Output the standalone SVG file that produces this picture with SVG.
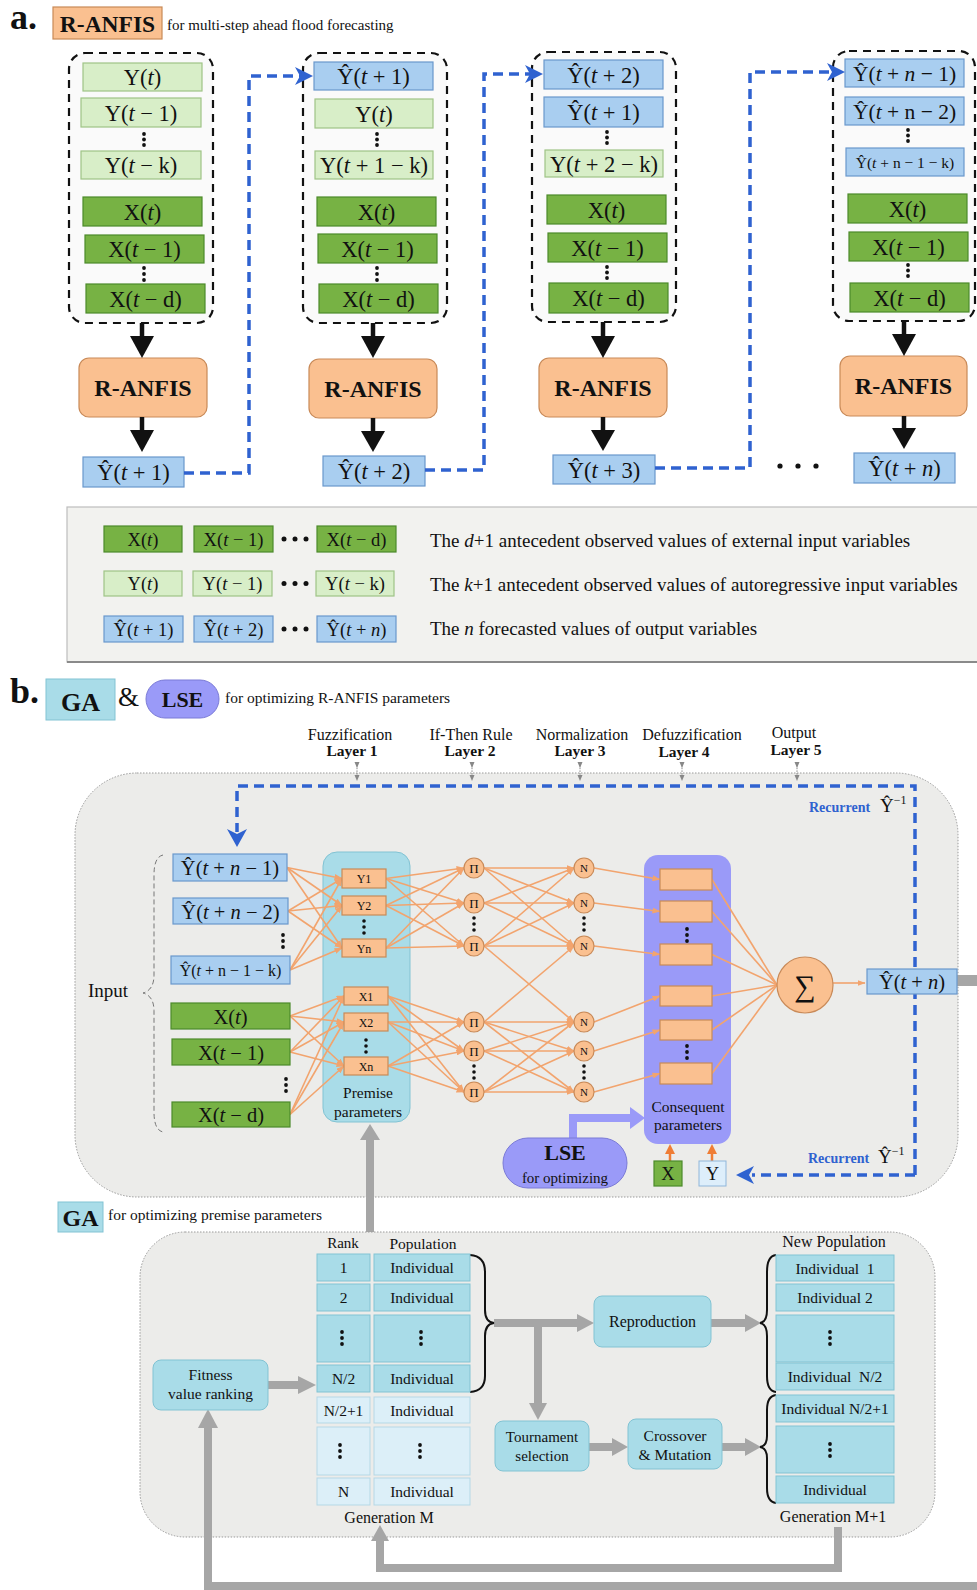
<svg xmlns="http://www.w3.org/2000/svg" width="977" height="1590" viewBox="0 0 977 1590">
<defs>
<style>
text{font-family:"Liberation Serif","Times New Roman",serif;fill:#111}
.c{text-anchor:middle}
.b{font-weight:bold}
.i{font-style:italic}
.yl{fill:#D8EEC8;stroke:#9FC486;stroke-width:1.2}
.xd{fill:#77B244;stroke:#4C8A2A;stroke-width:1.2}
.yh{fill:#A9CEF0;stroke:#6A98CC;stroke-width:1.2}
.or{fill:#FAC090;stroke:#C98A58;stroke-width:1.2}
.cy{fill:#A9DCE8;stroke:#82C3D3;stroke-width:1}
.cyl{fill:#DCEFF8;stroke:#B5D8E6;stroke-width:1}
.pe{fill:#9A9AF8}
.frame{fill:#FAFAFA;stroke:#111;stroke-width:2.2;stroke-dasharray:8 6}
.panel{fill:#ECECEA;stroke:#9A9A9A;stroke-width:1;stroke-dasharray:1.5 1.5}
.blk{stroke:#111;stroke-width:4.5;fill:none}
.bd{stroke:#2F62D0;stroke-width:3.5;fill:none;stroke-dasharray:10 6}
.bh{fill:#2F62D0}
.ol{stroke:#F2A46E;stroke-width:1.6;fill:none}
.gr{stroke:#A6A6A6;stroke-width:8;fill:none}
.gh{fill:#A6A6A6}
.dot{fill:#111}
.t21{font-size:22.5px}
.t19{font-size:19px}
.tn{font-size:20.5px}
.t18{font-size:18.5px}
.t16{font-size:16px}
.t155{font-size:15.5px}
</style>
<marker id="oa" markerWidth="8" markerHeight="6" refX="7.5" refY="3" orient="auto" markerUnits="userSpaceOnUse"><path d="M0,0 L8,3 L0,6 z" fill="#F2A46E"/></marker>
<marker id="ga" markerWidth="6" markerHeight="6" refX="3" refY="3" orient="auto" markerUnits="userSpaceOnUse"><path d="M0,0.5 L6,3 L0,5.5 z" fill="#888"/></marker>
</defs>
<rect width="977" height="1590" fill="#FFFFFF"/>

<!-- ================= PART A ================= -->
<g id="header-a">
<text x="10" y="29" font-size="36" class="b">a.</text>
<rect x="53" y="7" width="109" height="32" class="or"/>
<text x="107.5" y="32" font-size="23.5" class="b c">R-ANFIS</text>
<text x="167" y="30" font-size="15">for multi-step ahead flood forecasting</text>
</g>

<g id="col1">
<rect x="69" y="53" width="144" height="270" rx="16" class="frame"/>
<rect x="83" y="63" width="119" height="28" class="yl"/><text x="142.5" y="85" class="c t21">Y(<tspan class="i">t</tspan>)</text>
<rect x="81" y="98" width="120" height="29" class="yl"/><text x="141" y="121" class="c t21">Y(<tspan class="i">t</tspan> − 1)</text>
<circle cx="144" cy="134" r="1.9" class="dot"/><circle cx="144" cy="139.5" r="1.9" class="dot"/><circle cx="144" cy="145" r="1.9" class="dot"/>
<rect x="81" y="151" width="120" height="28" class="yl"/><text x="141" y="173" class="c t21">Y(<tspan class="i">t</tspan> − k)</text>
<rect x="83" y="197" width="119" height="29" class="xd"/><text x="142.5" y="220" class="c t21">X(<tspan class="i">t</tspan>)</text>
<rect x="85" y="235" width="119" height="28" class="xd"/><text x="144.5" y="257" class="c t21">X(<tspan class="i">t</tspan> − 1)</text>
<circle cx="144" cy="268" r="1.9" class="dot"/><circle cx="144" cy="274" r="1.9" class="dot"/><circle cx="144" cy="280" r="1.9" class="dot"/>
<rect x="86" y="284" width="119" height="29" class="xd"/><text x="145.5" y="307" class="c t21">X(<tspan class="i">t</tspan> − d)</text>
</g>

<g id="col2">
<rect x="303" y="53" width="144" height="270" rx="16" class="frame"/>
<rect x="314" y="62" width="119" height="28" class="yh"/><text x="373.5" y="84" class="c t21">Ŷ(<tspan class="i">t</tspan> + 1)</text>
<rect x="315" y="99" width="118" height="29" class="yl"/><text x="374" y="122" class="c t21">Y(<tspan class="i">t</tspan>)</text>
<circle cx="377" cy="134" r="1.9" class="dot"/><circle cx="377" cy="139.5" r="1.9" class="dot"/><circle cx="377" cy="145" r="1.9" class="dot"/>
<rect x="315" y="151" width="118" height="28" class="yl"/><text x="374" y="173" class="c t21">Y(<tspan class="i">t</tspan> + 1 − k)</text>
<rect x="317" y="197" width="119" height="29" class="xd"/><text x="376.5" y="220" class="c t21">X(<tspan class="i">t</tspan>)</text>
<rect x="318" y="234" width="119" height="29" class="xd"/><text x="377.5" y="257" class="c t21">X(<tspan class="i">t</tspan> − 1)</text>
<circle cx="377" cy="268" r="1.9" class="dot"/><circle cx="377" cy="274" r="1.9" class="dot"/><circle cx="377" cy="280" r="1.9" class="dot"/>
<rect x="319" y="284" width="119" height="29" class="xd"/><text x="378.5" y="307" class="c t21">X(<tspan class="i">t</tspan> − d)</text>
</g>

<g id="col3">
<rect x="532" y="52" width="144" height="270" rx="16" class="frame"/>
<rect x="544" y="60" width="119" height="29" class="yh"/><text x="603.5" y="83" class="c t21">Ŷ(<tspan class="i">t</tspan> + 2)</text>
<rect x="544" y="97" width="119" height="30" class="yh"/><text x="603.5" y="120" class="c t21">Ŷ(<tspan class="i">t</tspan> + 1)</text>
<circle cx="607" cy="132" r="1.9" class="dot"/><circle cx="607" cy="137.5" r="1.9" class="dot"/><circle cx="607" cy="143" r="1.9" class="dot"/>
<rect x="545" y="150" width="118" height="27" class="yl"/><text x="604" y="172" class="c t21">Y(<tspan class="i">t</tspan> + 2 − k)</text>
<rect x="547" y="195" width="119" height="29" class="xd"/><text x="606.5" y="218" class="c t21">X(<tspan class="i">t</tspan>)</text>
<rect x="548" y="233" width="119" height="29" class="xd"/><text x="607.5" y="256" class="c t21">X(<tspan class="i">t</tspan> − 1)</text>
<circle cx="607" cy="267" r="1.9" class="dot"/><circle cx="607" cy="272.5" r="1.9" class="dot"/><circle cx="607" cy="278" r="1.9" class="dot"/>
<rect x="549" y="283" width="119" height="30" class="xd"/><text x="608.5" y="306" class="c t21">X(<tspan class="i">t</tspan> − d)</text>
</g>

<g id="col4">
<rect x="833" y="51" width="142" height="270" rx="16" class="frame"/>
<rect x="845" y="59" width="119" height="28" class="yh"/><text x="904.5" y="81" class="c" font-size="21.5">Ŷ(<tspan class="i">t</tspan> + <tspan class="i">n</tspan> − 1)</text>
<rect x="845" y="97" width="119" height="28" class="yh"/><text x="904.5" y="119" class="c" font-size="21.5">Ŷ(<tspan class="i">t</tspan> + n − 2)</text>
<circle cx="908" cy="130" r="1.9" class="dot"/><circle cx="908" cy="135.5" r="1.9" class="dot"/><circle cx="908" cy="141" r="1.9" class="dot"/>
<rect x="846" y="148" width="118" height="28" class="yh"/><text x="905" y="167.5" class="c" font-size="15.5">Ŷ(<tspan class="i">t</tspan> + n − 1 − k)</text>
<rect x="848" y="194" width="119" height="29" class="xd"/><text x="907.5" y="217" class="c t21">X(<tspan class="i">t</tspan>)</text>
<rect x="849" y="232" width="119" height="29" class="xd"/><text x="908.5" y="255" class="c t21">X(<tspan class="i">t</tspan> − 1)</text>
<circle cx="908" cy="265" r="1.9" class="dot"/><circle cx="908" cy="270.5" r="1.9" class="dot"/><circle cx="908" cy="276" r="1.9" class="dot"/>
<rect x="850" y="283" width="119" height="29" class="xd"/><text x="909.5" y="306" class="c t21">X(<tspan class="i">t</tspan> − d)</text>
</g>

<g id="anfis-a">
<rect x="79" y="358" width="128" height="59" rx="10" class="or"/><text x="143" y="396" font-size="24" class="b c">R-ANFIS</text>
<rect x="309" y="359" width="128" height="59" rx="10" class="or"/><text x="373" y="397" font-size="24" class="b c">R-ANFIS</text>
<rect x="539" y="358" width="128" height="59" rx="10" class="or"/><text x="603" y="396" font-size="24" class="b c">R-ANFIS</text>
<rect x="840" y="356" width="127" height="60" rx="10" class="or"/><text x="903.5" y="394" font-size="24" class="b c">R-ANFIS</text>
</g>

<g id="outputs-a">
<rect x="83" y="457" width="101" height="30" class="yh"/><text x="133.5" y="480" class="c t21">Ŷ(<tspan class="i">t</tspan> + 1)</text>
<rect x="323" y="456" width="102" height="30" class="yh"/><text x="374" y="479" class="c t21">Ŷ(<tspan class="i">t</tspan> + 2)</text>
<rect x="553" y="455" width="102" height="29" class="yh"/><text x="604" y="478" class="c t21">Ŷ(<tspan class="i">t</tspan> + 3)</text>
<rect x="854" y="453" width="101" height="30" class="yh"/><text x="904.5" y="476" class="c t21">Ŷ(<tspan class="i">t</tspan> + <tspan class="i">n</tspan>)</text>
<circle cx="780" cy="466" r="2.6" class="dot"/><circle cx="798" cy="466" r="2.6" class="dot"/><circle cx="816" cy="466" r="2.6" class="dot"/>
</g>

<g id="connectors-a">
<line x1="142" y1="323" x2="142" y2="338" class="blk"/><polygon points="130,336 154,336 142,358" fill="#111"/>
<line x1="142" y1="417" x2="142" y2="432" class="blk"/><polygon points="130,430 154,430 142,452" fill="#111"/>
<line x1="373" y1="323" x2="373" y2="338" class="blk"/><polygon points="361,336 385,336 373,358" fill="#111"/>
<line x1="373" y1="418" x2="373" y2="433" class="blk"/><polygon points="361,431 385,431 373,452" fill="#111"/>
<line x1="603" y1="322" x2="603" y2="338" class="blk"/><polygon points="591,336 615,336 603,358" fill="#111"/>
<line x1="603" y1="417" x2="603" y2="432" class="blk"/><polygon points="591,430 615,430 603,451" fill="#111"/>
<line x1="904" y1="321" x2="904" y2="336" class="blk"/><polygon points="892,334 916,334 904,356" fill="#111"/>
<line x1="904" y1="416" x2="904" y2="430" class="blk"/><polygon points="892,428 916,428 904,449" fill="#111"/>
<path d="M184,473 H249 V76 H300" class="bd"/><polygon points="313,76 295,67 300,76 295,85" class="bh"/>
<path d="M425,470 H484 V74 H530" class="bd"/><polygon points="543,74 525,65 530,74 525,83" class="bh"/>
<path d="M655,468 H750 V72 H832" class="bd"/><polygon points="845,72 827,63 832,72 827,81" class="bh"/>
</g>

<g id="legend">
<rect x="67" y="507" width="915" height="155" fill="#F2F2EF" stroke="#BDBDBD" stroke-width="1.2"/>
<line x1="67" y1="662" x2="977" y2="662" stroke="#8A8A8A" stroke-width="2"/>
<rect x="104" y="526" width="78" height="26" class="xd"/><text x="143" y="545.5" class="c t18">X(<tspan class="i">t</tspan>)</text>
<rect x="194" y="526" width="79" height="26" class="xd"/><text x="233.5" y="545.5" class="c t18">X(<tspan class="i">t</tspan> − 1)</text>
<circle cx="284" cy="539" r="2.5" class="dot"/><circle cx="295" cy="539" r="2.5" class="dot"/><circle cx="306" cy="539" r="2.5" class="dot"/>
<rect x="317" y="526" width="79" height="26" class="xd"/><text x="356.5" y="545.5" class="c t18">X(<tspan class="i">t</tspan> − d)</text>
<text x="430" y="547" class="t19">The <tspan class="i">d</tspan>+1 antecedent observed values of external input variables</text>
<rect x="104" y="571" width="78" height="25" class="yl"/><text x="143" y="590" class="c t18">Y(<tspan class="i">t</tspan>)</text>
<rect x="193" y="571" width="79" height="25" class="yl"/><text x="232.5" y="590" class="c t18">Y(<tspan class="i">t</tspan> − 1)</text>
<circle cx="284" cy="583.5" r="2.5" class="dot"/><circle cx="295" cy="583.5" r="2.5" class="dot"/><circle cx="306" cy="583.5" r="2.5" class="dot"/>
<rect x="316" y="571" width="78" height="25" class="yl"/><text x="355" y="590" class="c t18">Y(<tspan class="i">t</tspan> − k)</text>
<text x="430" y="591" class="t19">The <tspan class="i">k</tspan>+1 antecedent observed values of autoregressive input variables</text>
<rect x="104" y="616" width="79" height="26" class="yh"/><text x="143.5" y="635.5" class="c t18">Ŷ(<tspan class="i">t</tspan> + 1)</text>
<rect x="194" y="616" width="79" height="26" class="yh"/><text x="233.5" y="635.5" class="c t18">Ŷ(<tspan class="i">t</tspan> + 2)</text>
<circle cx="284" cy="629" r="2.5" class="dot"/><circle cx="295" cy="629" r="2.5" class="dot"/><circle cx="306" cy="629" r="2.5" class="dot"/>
<rect x="317" y="616" width="79" height="26" class="yh"/><text x="356.5" y="635.5" class="c t18">Ŷ(<tspan class="i">t</tspan> + <tspan class="i">n</tspan>)</text>
<text x="430" y="635" class="t19">The <tspan class="i">n</tspan> forecasted values of output variables</text>
</g>

<!-- ================= PART B ================= -->
<g id="header-b">
<text x="10" y="703" font-size="36" class="b">b.</text>
<rect x="46" y="679" width="69" height="41" class="cy"/>
<text x="80.5" y="711" font-size="26" class="b c">GA</text>
<text x="118" y="706" font-size="27">&amp;</text>
<rect x="146" y="680" width="73" height="38" rx="19" class="pe" stroke="#7A7AD6" stroke-width="1"/>
<text x="182.5" y="707" font-size="22" class="b c">LSE</text>
<text x="225" y="703" font-size="15.5">for optimizing R-ANFIS parameters</text>
</g>

<g id="layer-labels">
<text x="350" y="740" class="c t16">Fuzzification</text><text x="352" y="756" class="c b t155">Layer 1</text>
<text x="471" y="740" class="c t16">If-Then Rule</text><text x="470" y="756" class="c b t155">Layer 2</text>
<text x="582" y="740" class="c t16">Normalization</text><text x="580" y="756" class="c b t155">Layer 3</text>
<text x="692" y="740" class="c t16">Defuzzification</text><text x="684" y="757" class="c b t155">Layer 4</text>
<text x="794" y="738" class="c t16">Output</text><text x="796" y="755" class="c b t155">Layer 5</text>
</g>

<g id="network-panel">
<rect x="75" y="773" width="883" height="424" rx="62" class="panel"/>
</g>

<g id="layer-ticks" stroke="#888" stroke-width="1" stroke-dasharray="1.5 1.2">
<line x1="357" y1="765" x2="357" y2="778" marker-start="url(#ga)" marker-end="url(#ga)"/>
<line x1="472" y1="765" x2="472" y2="778" marker-start="url(#ga)" marker-end="url(#ga)"/>
<line x1="580" y1="765" x2="580" y2="778" marker-start="url(#ga)" marker-end="url(#ga)"/>
<line x1="682" y1="765" x2="682" y2="778" marker-start="url(#ga)" marker-end="url(#ga)"/>
<line x1="797" y1="765" x2="797" y2="778" marker-start="url(#ga)" marker-end="url(#ga)"/>
</g>

<g id="premise-panel">
<rect x="323" y="852" width="87" height="270" rx="14" class="cy" stroke="none"/>
<text x="368" y="1098" class="c t155">Premise</text>
<text x="368" y="1117" class="c t155">parameters</text>
</g>
<g id="consequent-panel">
<rect x="644" y="855" width="87" height="289" rx="14" class="pe"/>
<text x="688" y="1112" class="c t155">Consequent</text>
<text x="688" y="1130" class="c t155">parameters</text>
</g>

<g id="connectors-b">
<g class="ol" marker-end="url(#oa)">
<line x1="287" y1="867.5" x2="342" y2="878.5"/><line x1="287" y1="867.5" x2="342" y2="905.5"/><line x1="287" y1="867.5" x2="342" y2="948"/>
<line x1="288" y1="911" x2="342" y2="878.5"/><line x1="288" y1="911" x2="342" y2="905.5"/><line x1="288" y1="911" x2="342" y2="948"/>
<line x1="290" y1="970" x2="342" y2="878.5"/><line x1="290" y1="970" x2="342" y2="905.5"/><line x1="290" y1="970" x2="342" y2="948"/>
<line x1="290" y1="1016" x2="344" y2="996"/><line x1="290" y1="1016" x2="344" y2="1022"/><line x1="290" y1="1016" x2="344" y2="1066"/>
<line x1="290" y1="1052" x2="344" y2="996"/><line x1="290" y1="1052" x2="344" y2="1022"/><line x1="290" y1="1052" x2="344" y2="1066"/>
<line x1="290" y1="1114.5" x2="344" y2="996"/><line x1="290" y1="1114.5" x2="344" y2="1022"/><line x1="290" y1="1114.5" x2="344" y2="1066"/>
<line x1="386" y1="878.5" x2="464" y2="868"/><line x1="386" y1="878.5" x2="464" y2="903"/><line x1="386" y1="878.5" x2="464" y2="946"/>
<line x1="386" y1="905.5" x2="464" y2="868"/><line x1="386" y1="905.5" x2="464" y2="903"/><line x1="386" y1="905.5" x2="464" y2="946"/>
<line x1="386" y1="948" x2="464" y2="868"/><line x1="386" y1="948" x2="464" y2="903"/><line x1="386" y1="948" x2="464" y2="946"/>
<line x1="388" y1="996" x2="464" y2="1022"/><line x1="388" y1="996" x2="464" y2="1051"/><line x1="388" y1="996" x2="464" y2="1092"/>
<line x1="388" y1="1022" x2="464" y2="1022"/><line x1="388" y1="1022" x2="464" y2="1051"/><line x1="388" y1="1022" x2="464" y2="1092"/>
<line x1="388" y1="1066" x2="464" y2="1022"/><line x1="388" y1="1066" x2="464" y2="1051"/><line x1="388" y1="1066" x2="464" y2="1092"/>
<line x1="484" y1="868" x2="574" y2="868"/><line x1="484" y1="868" x2="574" y2="903"/><line x1="484" y1="868" x2="574" y2="946"/>
<line x1="484" y1="903" x2="574" y2="868"/><line x1="484" y1="903" x2="574" y2="903"/><line x1="484" y1="903" x2="574" y2="946"/>
<line x1="484" y1="946" x2="574" y2="868"/><line x1="484" y1="946" x2="574" y2="903"/><line x1="484" y1="946" x2="574" y2="946"/><line x1="484" y1="946" x2="574" y2="1022"/>
<line x1="484" y1="1022" x2="574" y2="946"/><line x1="484" y1="1022" x2="574" y2="1022"/><line x1="484" y1="1022" x2="574" y2="1051"/><line x1="484" y1="1022" x2="574" y2="1092"/>
<line x1="484" y1="1051" x2="574" y2="1022"/><line x1="484" y1="1051" x2="574" y2="1051"/><line x1="484" y1="1051" x2="574" y2="1092"/>
<line x1="484" y1="1092" x2="574" y2="1022"/><line x1="484" y1="1092" x2="574" y2="1051"/><line x1="484" y1="1092" x2="574" y2="1092"/>
<line x1="594" y1="868" x2="660" y2="879.5"/><line x1="594" y1="903" x2="660" y2="911.5"/><line x1="594" y1="946" x2="660" y2="954.5"/>
<line x1="594" y1="1022" x2="660" y2="996"/><line x1="594" y1="1051" x2="660" y2="1030"/><line x1="594" y1="1092" x2="660" y2="1073.5"/>
<line x1="833" y1="983" x2="865" y2="983"/>
</g>
<g class="ol">
<line x1="712" y1="879.5" x2="777" y2="985"/><line x1="712" y1="911.5" x2="777" y2="985"/><line x1="712" y1="954.5" x2="777" y2="985"/>
<line x1="712" y1="996" x2="777" y2="985"/><line x1="712" y1="1030" x2="777" y2="985"/><line x1="712" y1="1073.5" x2="777" y2="985"/>
</g>
<path d="M915,1175 V786 H237 V832" class="bd"/><polygon points="237,847 227,829 237,834 247,829" class="bh"/>
<path d="M915,1175 H752" class="bd"/><polygon points="736,1175 754,1166 749,1175 754,1184" class="bh"/>
<path d="M573,1138 V1118 H632" stroke="#9A9AF8" stroke-width="8" fill="none"/>
<polygon points="645,1118 630,1107 630,1129" fill="#9A9AF8"/>
<line x1="670" y1="1161" x2="670" y2="1153" stroke="#EF7D35" stroke-width="2.5"/><polygon points="670,1144 665,1154 675,1154" fill="#EF7D35"/>
<line x1="712" y1="1161" x2="712" y2="1153" stroke="#EF7D35" stroke-width="2.5"/><polygon points="712,1144 707,1154 717,1154" fill="#EF7D35"/>
<rect x="957" y="975" width="20" height="11" class="gh"/>
<line x1="370" y1="1253" x2="370" y2="1138" class="gr"/><polygon points="370,1124 360,1140 380,1140" class="gh"/>
<path d="M163,855 Q154,857 154,875 V975 Q154,990 143,993 Q154,996 154,1011 V1112 Q154,1130 163,1132" fill="none" stroke="#777" stroke-width="1" stroke-dasharray="5 3"/>
</g>

<g id="network-inputs">
<text x="88" y="997" font-size="19">Input</text>
<rect x="173" y="854" width="114" height="27" class="yh"/><text x="230" y="875" class="c tn">Ŷ(<tspan class="i">t</tspan> + <tspan class="i">n</tspan> − 1)</text>
<rect x="173" y="898" width="115" height="26" class="yh"/><text x="230.5" y="918.5" class="c tn">Ŷ(<tspan class="i">t</tspan> + <tspan class="i">n</tspan> − 2)</text>
<circle cx="283" cy="935" r="1.9" class="dot"/><circle cx="283" cy="941" r="1.9" class="dot"/><circle cx="283" cy="947" r="1.9" class="dot"/>
<rect x="171" y="956" width="119" height="28" class="yh"/><text x="230.5" y="976" class="c" font-size="16">Ŷ(<tspan class="i">t</tspan> + n − 1 − k)</text>
<rect x="171" y="1003" width="119" height="26" class="xd"/><text x="230.5" y="1023.5" class="c tn">X(<tspan class="i">t</tspan>)</text>
<rect x="172" y="1039" width="118" height="26" class="xd"/><text x="231" y="1059.5" class="c tn">X(<tspan class="i">t</tspan> − 1)</text>
<circle cx="286" cy="1079" r="1.9" class="dot"/><circle cx="286" cy="1085" r="1.9" class="dot"/><circle cx="286" cy="1091" r="1.9" class="dot"/>
<rect x="172" y="1102" width="118" height="25" class="xd"/><text x="231" y="1121.5" class="c tn">X(<tspan class="i">t</tspan> − d)</text>
</g>

<g id="membership">
<rect x="342" y="869" width="44" height="19" class="or"/><text x="364" y="883" class="c" font-size="12">Y1</text>
<rect x="342" y="896" width="44" height="19" class="or"/><text x="364" y="910" class="c" font-size="12">Y2</text>
<circle cx="364" cy="921" r="1.8" class="dot"/><circle cx="364" cy="927" r="1.8" class="dot"/><circle cx="364" cy="933" r="1.8" class="dot"/>
<rect x="342" y="939" width="44" height="18" class="or"/><text x="364" y="952.5" class="c" font-size="12">Yn</text>
<rect x="344" y="987" width="44" height="18" class="or"/><text x="366" y="1000.5" class="c" font-size="12">X1</text>
<rect x="344" y="1013" width="44" height="18" class="or"/><text x="366" y="1026.5" class="c" font-size="12">X2</text>
<circle cx="366" cy="1040" r="1.8" class="dot"/><circle cx="366" cy="1046" r="1.8" class="dot"/><circle cx="366" cy="1052" r="1.8" class="dot"/>
<rect x="344" y="1057" width="44" height="18" class="or"/><text x="366" y="1070.5" class="c" font-size="12">Xn</text>
</g>

<g id="product-nodes">
<circle cx="474" cy="868" r="10" class="or"/><text x="474" y="872.5" class="c" font-size="13">Π</text>
<circle cx="474" cy="903" r="10" class="or"/><text x="474" y="907.5" class="c" font-size="13">Π</text>
<circle cx="474" cy="918" r="1.8" class="dot"/><circle cx="474" cy="924" r="1.8" class="dot"/><circle cx="474" cy="930" r="1.8" class="dot"/>
<circle cx="474" cy="946" r="10" class="or"/><text x="474" y="950.5" class="c" font-size="13">Π</text>
<circle cx="474" cy="1022" r="10" class="or"/><text x="474" y="1026.5" class="c" font-size="13">Π</text>
<circle cx="474" cy="1051" r="10" class="or"/><text x="474" y="1055.5" class="c" font-size="13">Π</text>
<circle cx="474" cy="1066" r="1.8" class="dot"/><circle cx="474" cy="1072" r="1.8" class="dot"/><circle cx="474" cy="1078" r="1.8" class="dot"/>
<circle cx="474" cy="1092" r="10" class="or"/><text x="474" y="1096.5" class="c" font-size="13">Π</text>
</g>

<g id="norm-nodes">
<circle cx="584" cy="868" r="10" class="or"/><text x="584" y="872" class="c" font-size="11">N</text>
<circle cx="584" cy="903" r="10" class="or"/><text x="584" y="907" class="c" font-size="11">N</text>
<circle cx="584" cy="918" r="1.8" class="dot"/><circle cx="584" cy="924" r="1.8" class="dot"/><circle cx="584" cy="930" r="1.8" class="dot"/>
<circle cx="584" cy="946" r="10" class="or"/><text x="584" y="950" class="c" font-size="11">N</text>
<circle cx="584" cy="1022" r="10" class="or"/><text x="584" y="1026" class="c" font-size="11">N</text>
<circle cx="584" cy="1051" r="10" class="or"/><text x="584" y="1055" class="c" font-size="11">N</text>
<circle cx="584" cy="1066" r="1.8" class="dot"/><circle cx="584" cy="1072" r="1.8" class="dot"/><circle cx="584" cy="1078" r="1.8" class="dot"/>
<circle cx="584" cy="1092" r="10" class="or"/><text x="584" y="1096" class="c" font-size="11">N</text>
</g>

<g id="consequent-nodes">
<rect x="660" y="869" width="52" height="21" class="or"/>
<rect x="660" y="901" width="52" height="21" class="or"/>
<circle cx="687" cy="929" r="1.9" class="dot"/><circle cx="687" cy="935" r="1.9" class="dot"/><circle cx="687" cy="941" r="1.9" class="dot"/>
<rect x="660" y="944" width="52" height="21" class="or"/>
<rect x="660" y="986" width="52" height="20" class="or"/>
<rect x="660" y="1020" width="52" height="20" class="or"/>
<circle cx="687" cy="1046" r="1.9" class="dot"/><circle cx="687" cy="1052" r="1.9" class="dot"/><circle cx="687" cy="1058" r="1.9" class="dot"/>
<rect x="660" y="1063" width="52" height="21" class="or"/>
</g>

<g id="sum-node">
<circle cx="805" cy="985" r="28" class="or"/>
<text x="805" y="996" class="c" font-size="30">∑</text>
</g>

<g id="output-node">
<rect x="867" y="969" width="90" height="25" class="yh"/>
<text x="912" y="988.5" class="c tn">Ŷ(<tspan class="i">t</tspan> + <tspan class="i">n</tspan>)</text>
</g>

<g id="recurrent-labels">
<text x="809" y="812" font-size="14" class="b" style="fill:#2F62D0">Recurrent</text>
<text x="880" y="812" font-size="19">Ŷ<tspan font-size="12" dy="-8">−1</tspan></text>
<text x="808" y="1163" font-size="14" class="b" style="fill:#2F62D0">Recurrent</text>
<text x="878" y="1163" font-size="19">Ŷ<tspan font-size="12" dy="-8">−1</tspan></text>
</g>

<g id="lse">
<rect x="503" y="1138" width="124" height="50" rx="25" class="pe" stroke="#7A7AD6" stroke-width="1"/>
<text x="565" y="1160" font-size="22" class="b c">LSE</text>
<text x="565" y="1183" font-size="15" class="c">for optimizing</text>
</g>

<g id="xy-boxes">
<rect x="654" y="1161" width="28" height="25" class="xd"/><text x="668" y="1180" class="c t18">X</text>
<rect x="699" y="1161" width="27" height="25" fill="#DDEEFB" stroke="#8FB6DA" stroke-width="1"/><text x="712.5" y="1180" class="c t18">Y</text>
</g>

<!-- ================= GA ================= -->
<g id="ga-header">
<rect x="58" y="1202" width="45" height="30" class="cy"/>
<text x="80.5" y="1226" font-size="24" class="b c">GA</text>
<text x="108" y="1220" font-size="15.5">for optimizing premise parameters</text>
</g>

<g id="ga-panel">
<rect x="140" y="1232" width="795" height="305" rx="45" class="panel"/>
</g>

<g id="ga-connectors">
<line x1="268" y1="1385" x2="300" y2="1385" class="gr"/><polygon points="316,1385 298,1376 298,1394" class="gh"/>
<line x1="494" y1="1323" x2="580" y2="1323" class="gr"/><polygon points="594,1323 577,1314 577,1332" class="gh"/>
<line x1="538" y1="1323" x2="538" y2="1405" class="gr"/><polygon points="538,1420 529,1403 547,1403" class="gh"/>
<line x1="589" y1="1447" x2="614" y2="1447" class="gr"/><polygon points="628,1447 612,1438 612,1456" class="gh"/>
<line x1="722" y1="1447" x2="747" y2="1447" class="gr"/><polygon points="761,1447 745,1438 745,1456" class="gh"/>
<line x1="711" y1="1323" x2="747" y2="1323" class="gr"/><polygon points="761,1323 745,1314 745,1332" class="gh"/>
<path d="M838,1527 V1568 H380 V1540" class="gr"/><polygon points="380,1525 371,1541 389,1541" class="gh"/>
<path d="M977,1586 H208 V1425" class="gr"/><polygon points="208,1409 198,1428 218,1428" class="gh"/>
<path d="M470,1255 Q485,1256 485,1272 V1310 Q485,1322 494,1323 Q485,1324 485,1336 V1376 Q485,1391 470,1392" fill="none" stroke="#111" stroke-width="2"/>
<path d="M776,1255 Q767,1256 767,1272 V1310 Q767,1322 760,1323 Q767,1324 767,1336 V1376 Q767,1391 776,1392" fill="none" stroke="#111" stroke-width="2"/>
<path d="M776,1395 Q767,1396 767,1410 V1436 Q767,1446 760,1447 Q767,1448 767,1458 V1488 Q767,1502 776,1503" fill="none" stroke="#111" stroke-width="2"/>
</g>

<g id="population-m">
<text x="343" y="1248" class="c" font-size="15">Rank</text>
<text x="423" y="1249" class="c t155">Population</text>
<rect x="317" y="1254" width="53" height="27" class="cy"/><text x="343.5" y="1273" class="c t155">1</text>
<rect x="374" y="1254" width="96" height="27" class="cy"/><text x="422" y="1273" class="c t155">Individual</text>
<rect x="317" y="1284" width="53" height="27" class="cy"/><text x="343.5" y="1303" class="c t155">2</text>
<rect x="374" y="1284" width="96" height="27" class="cy"/><text x="422" y="1303" class="c t155">Individual</text>
<rect x="317" y="1315" width="53" height="47" class="cy"/><rect x="374" y="1315" width="96" height="47" class="cy"/>
<circle cx="342" cy="1332" r="1.9" class="dot"/><circle cx="342" cy="1338" r="1.9" class="dot"/><circle cx="342" cy="1344" r="1.9" class="dot"/>
<circle cx="421" cy="1332" r="1.9" class="dot"/><circle cx="421" cy="1338" r="1.9" class="dot"/><circle cx="421" cy="1344" r="1.9" class="dot"/>
<rect x="317" y="1365" width="53" height="27" class="cy"/><text x="343.5" y="1384" class="c t155">N/2</text>
<rect x="374" y="1365" width="96" height="27" class="cy"/><text x="422" y="1384" class="c t155">Individual</text>
<rect x="317" y="1397" width="53" height="26" class="cyl"/><text x="343.5" y="1416" class="c t155">N/2+1</text>
<rect x="374" y="1397" width="96" height="26" class="cyl"/><text x="422" y="1416" class="c t155">Individual</text>
<rect x="317" y="1427" width="53" height="48" class="cyl"/><rect x="374" y="1427" width="96" height="48" class="cyl"/>
<circle cx="340" cy="1445" r="1.9" class="dot"/><circle cx="340" cy="1451" r="1.9" class="dot"/><circle cx="340" cy="1457" r="1.9" class="dot"/>
<circle cx="420" cy="1445" r="1.9" class="dot"/><circle cx="420" cy="1451" r="1.9" class="dot"/><circle cx="420" cy="1457" r="1.9" class="dot"/>
<rect x="317" y="1478" width="53" height="27" class="cyl"/><text x="343.5" y="1497" class="c t155">N</text>
<rect x="374" y="1478" width="96" height="27" class="cyl"/><text x="422" y="1497" class="c t155">Individual</text>
<text x="389" y="1523" class="c t16">Generation M</text>
</g>

<g id="fitness">
<rect x="153" y="1360" width="115" height="50" rx="8" class="cy"/>
<text x="210.5" y="1380" class="c t155">Fitness</text>
<text x="210.5" y="1399" class="c t155">value ranking</text>
</g>
<g id="reproduction">
<rect x="594" y="1296" width="117" height="51" rx="8" class="cy"/>
<text x="652.5" y="1327" class="c t16">Reproduction</text>
</g>
<g id="tournament">
<rect x="495" y="1421" width="94" height="50" rx="8" class="cy"/>
<text x="542" y="1442" class="c" font-size="15">Tournament</text>
<text x="542" y="1461" class="c" font-size="15">selection</text>
</g>
<g id="crossover">
<rect x="628" y="1419" width="94" height="50" rx="8" class="cy"/>
<text x="675" y="1441" class="c t155">Crossover</text>
<text x="675" y="1460" class="c t155">&amp; Mutation</text>
</g>

<g id="population-m1">
<text x="834" y="1247" class="c t16">New Population</text>
<rect x="776" y="1255" width="118" height="26" class="cy"/><text x="835" y="1274" class="c t155" xml:space="preserve">Individual  1</text>
<rect x="776" y="1284" width="118" height="27" class="cy"/><text x="835" y="1303" class="c t155">Individual 2</text>
<rect x="776" y="1315" width="118" height="47" class="cy"/>
<circle cx="830" cy="1332" r="1.9" class="dot"/><circle cx="830" cy="1338" r="1.9" class="dot"/><circle cx="830" cy="1344" r="1.9" class="dot"/>
<rect x="776" y="1363" width="118" height="27" class="cy"/><text x="835" y="1382" class="c t155" xml:space="preserve">Individual  N/2</text>
<rect x="776" y="1395" width="118" height="27" class="cy"/><text x="835" y="1414" class="c t155">Individual N/2+1</text>
<rect x="776" y="1426" width="118" height="47" class="cy"/>
<circle cx="830" cy="1444" r="1.9" class="dot"/><circle cx="830" cy="1450" r="1.9" class="dot"/><circle cx="830" cy="1456" r="1.9" class="dot"/>
<rect x="776" y="1476" width="118" height="27" class="cy"/><text x="835" y="1495" class="c t155">Individual</text>
<text x="833" y="1522" class="c t16">Generation M+1</text>
</g>
</svg>
